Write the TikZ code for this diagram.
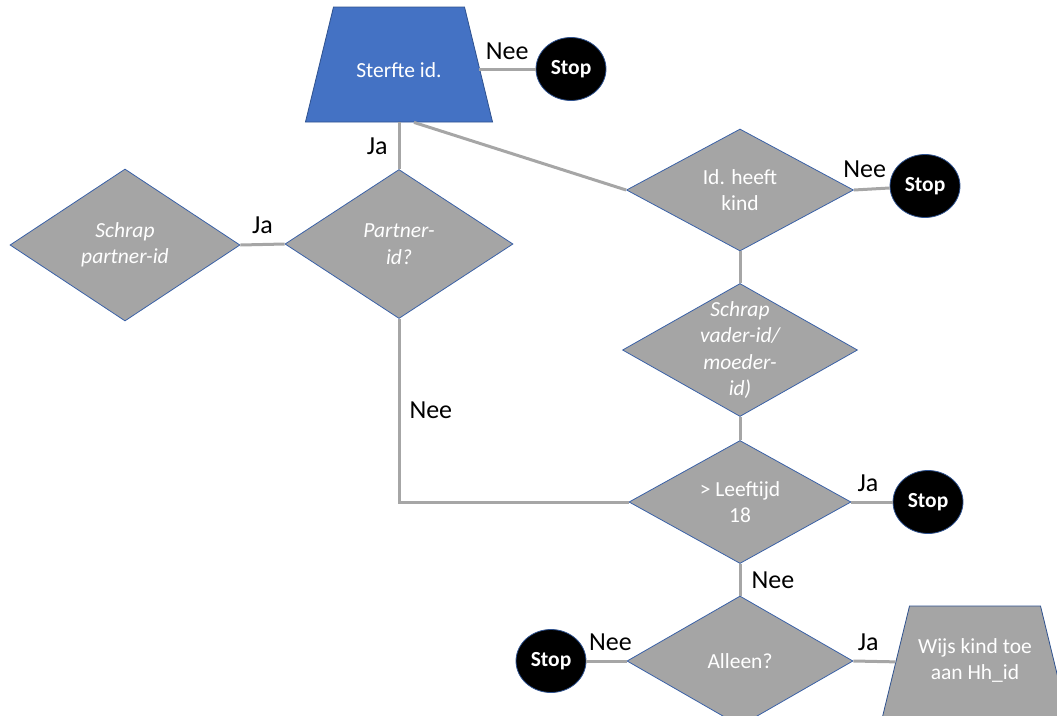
\documentclass[tikz,border=0pt]{standalone}
\usepackage{fontspec}
\setmainfont{Carlito}
\usepackage{xcolor}
\usepackage{tikz}
\usetikzlibrary{shapes.geometric}

\definecolor{idblue}{HTML}{4472C4}
\definecolor{rimblue}{HTML}{2F528F}
\definecolor{boxgray}{HTML}{A5A5A5}
\definecolor{wiregray}{HTML}{A6A6A6}

\begin{document}
\begin{tikzpicture}[x=1pt, y=-1pt,
    wire/.style={draw=wiregray, line width=3pt},
    answer/.style={font=\fontsize{26}{31}\selectfont, inner sep=2pt},
    check/.style={diamond, fill=boxgray, draw=idblue!85!black, line width=0.8pt, inner sep=0pt},
    checktext/.style={text=white, align=center, inner sep=0pt, font=\fontsize{21.5}{26.5}\selectfont},
    checkit/.style={checktext, font=\fontsize{21.5}{26.5}\selectfont\itshape},
    stopnode/.style={ellipse, fill=black, draw=rimblue, line width=0.8pt, minimum width=70pt,
        minimum height=63pt, inner sep=0pt, text=white, font=\fontsize{21.5}{26}\selectfont\bfseries},
    action/.style={trapezium, trapezium left angle=76.3, trapezium right angle=76.3,
        inner xsep=65.5pt, inner ysep=57.5pt, draw=rimblue, line width=0.8pt}]

    \useasboundingbox (0,0) rectangle (1057,715);
    \clip (0,0) rectangle (1057,715);

    % Start
    \node[action, fill=idblue,
        label={[checktext, yshift=-6pt]center:{Sterfte id.}}] (sterfte) at (399,64.5) {};

    % Decisions
    \node[check, minimum width=230pt, minimum height=152pt,
        label={[checkit]center:{Schrap\\partner-id}}] (schrap) at (125,245) {};
    \node[check, minimum width=228pt, minimum height=149pt,
        label={[checkit]center:{Partner-\\id?}}] (partner) at (399,244) {};
    \node[check, minimum width=227pt, minimum height=122pt,
        label={[checktext]center:{Id. heeft\\kind}}] (kind) at (740,190) {};
    \node[check, minimum width=235pt, minimum height=133pt,
        label={[checkit]center:{Schrap\\vader-id/\\moeder-\\id)}}] (vader) at (740,350) {};
    \node[check, minimum width=222pt, minimum height=123pt,
        label={[checktext]center:{\textgreater\ Leeftijd\\18}}] (leeftijd) at (740,502) {};
    \node[check, minimum width=226pt, minimum height=130pt,
        label={[checktext]center:{Alleen?}}] (alleen) at (740,661) {};

    % End points
    \foreach \name/\x/\y in {stopA/571/69, stopB/925/186, stopC/928/502, stopD/551/661}
        \node[stopnode] (\name) at (\x,\y) {Stop};

    % Assign child
    \node[action, fill=boxgray,
        label={[checktext, yshift=3pt]center:{Wijs kind toe\\aan Hh\_id}}] (wijs) at (975,663.5) {};

    % Connectors
    \draw[wire] (sterfte.east |- stopA.west) -- (stopA.west) node[answer, midway, above=6pt] (neeA) {Nee};
    \draw[wire] (sterfte.south) -- (partner.north) node[answer, midway, left=8pt] (jaA) {Ja};
    \draw[wire] ([xshift=15pt]sterfte.south) -- (kind.west);
    \draw[wire] (partner.west) -- (schrap.east) node[answer, midway, above=7pt] (jaB) {Ja};
    \draw[wire] (kind.east) -- (stopB) node[answer, pos=0.3, above=8pt] (neeB) {Nee};
    \draw[wire] (kind.south) -- (vader.north);
    \draw[wire] (vader.south) -- (leeftijd.north);
    \draw[wire] (partner.south) |- (leeftijd.west) node[answer, pos=0.25, right=7pt] (neeC) {Nee};
    \draw[wire] (leeftijd.east) -- (stopC) node[answer, pos=0.4, above=7pt] (jaC) {Ja};
    \draw[wire] (leeftijd.south) -- (alleen.north) node[answer, midway, right=8pt] (neeD) {Nee};
    \draw[wire] (alleen.west) -- (stopD) node[answer, pos=0.4, above=7pt] (neeE) {Nee};
    \draw[wire] (alleen.east) -- (wijs) node[answer, pos=0.35, above=7pt] (jaD) {Ja};
\end{tikzpicture}
\end{document}
